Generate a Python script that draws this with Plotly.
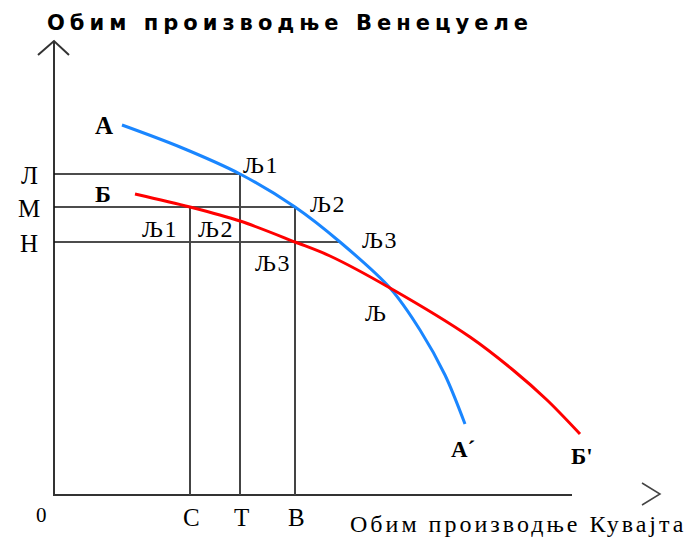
import plotly.graph_objects as go

# Production possibility curves (origin at the axes corner)
curve_a_x = [68, 126, 186, 241, 286, 336, 366, 391, 411]
curve_a_y = [370, 348, 321, 288, 253, 207, 165, 120, 71]
curve_b_x = [81, 136, 186, 241, 276, 336, 416, 459, 493, 526]
curve_b_y = [301, 288, 274, 253, 239, 207, 158, 125, 95, 61]

# Guide levels
y_levels = [321, 288, 253]          # Л, М, Н
y_level_labels = ["Л", "М", "Н"]
y_level_ends = [186, 241, 286]
x_levels = [136, 186, 241]          # С, Т, В
x_level_labels = ["С", "Т", "В"]
x_level_tops = [288, 321, 288]

point_labels = ["Љ1", "Љ2", "Љ3", "Љ1", "Љ2", "Љ3", "Љ"]
point_x = [207, 274, 326, 106, 162, 219, 322]
point_y = [330, 291, 255, 266, 266, 232, 182]

curve_labels = ["А", "Б", "А´", "Б'"]
curve_label_x = [50, 49, 409, 528]
curve_label_y = [370, 301, 46, 39]

x_title = "Обим производње Кувајта"
y_title = "Обим производње Венецуеле"

BLUE = "#1a86ff"
RED = "#ff0000"
SERIF = "Liberation Serif, Times New Roman, serif"

fig = go.Figure()

# axes
fig.add_trace(go.Scatter(x=[0, 0, 518], y=[454, 0, 0], mode="lines",
                         line=dict(color="#333333", width=2), hoverinfo="skip"))
fig.add_trace(go.Scatter(x=[-16, 0, 15], y=[440, 454, 440], mode="lines",
                         line=dict(color="#333333", width=2), hoverinfo="skip"))
fig.add_trace(go.Scatter(x=[588, 606, 588], y=[12, 1, -10], mode="lines",
                         line=dict(color="#444444", width=1.5), hoverinfo="skip"))

# horizontal guide lines
for yv, xe in zip(y_levels, y_level_ends):
    fig.add_trace(go.Scatter(x=[0, xe], y=[yv, yv], mode="lines",
                             line=dict(color="#111111", width=1.6), hoverinfo="skip"))
# vertical guide lines
for xv, yt in zip(x_levels, x_level_tops):
    fig.add_trace(go.Scatter(x=[xv, xv], y=[0, yt], mode="lines",
                             line=dict(color="#444444", width=2), hoverinfo="skip"))

# curves
fig.add_trace(go.Scatter(x=curve_a_x, y=curve_a_y, mode="lines",
                         line=dict(color=BLUE, width=3, shape="spline", smoothing=0.9),
                         hoverinfo="skip"))
fig.add_trace(go.Scatter(x=curve_b_x, y=curve_b_y, mode="lines",
                         line=dict(color=RED, width=3, shape="spline", smoothing=0.9),
                         hoverinfo="skip"))

ann = []
for t, x, y in zip(point_labels, point_x, point_y):
    ann.append(dict(x=x, y=y, text='<span style="letter-spacing:1.5px">' + t + "</span>",
                    showarrow=False, xanchor="center", yanchor="middle",
                    font=dict(family=SERIF, size=24, color="#000000")))
for t, x, y, s in zip(curve_labels, curve_label_x, curve_label_y, [25, 24, 23, 23]):
    ann.append(dict(x=x, y=y, text="<b>" + t + "</b>", showarrow=False,
                    xanchor="center", yanchor="middle",
                    font=dict(family=SERIF, size=s, color="#000000")))
for t, y in zip(y_level_labels, y_levels):
    ann.append(dict(x=-25, y=y - 1, text=t, showarrow=False, xanchor="center", yanchor="middle",
                    font=dict(family=SERIF, size=25, color="#000000")))
for t, x in zip(x_level_labels, x_levels):
    ann.append(dict(x=x + 1, y=-22, text=t, showarrow=False, xanchor="center", yanchor="middle",
                    font=dict(family=SERIF, size=25, color="#000000")))
ann.append(dict(x=-13, y=-20, text="0", showarrow=False, xanchor="center", yanchor="middle",
                font=dict(family=SERIF, size=21, color="#000000")))
ann.append(dict(x=464, y=-29,
                text='<span style="letter-spacing:3px">' + x_title + "</span>",
                showarrow=False, xanchor="center", yanchor="middle",
                font=dict(family=SERIF, size=24, color="#000000")))
ann.append(dict(x=236, y=472,
                text='<span style="letter-spacing:5px"><b>' + y_title + "</b></span>",
                showarrow=False, xanchor="center", yanchor="middle",
                font=dict(family="DejaVu Sans", size=21, color="#000000")))

fig.update_layout(
    width=693, height=541,
    margin=dict(l=0, r=0, t=0, b=0),
    paper_bgcolor="white", plot_bgcolor="white",
    showlegend=False,
    annotations=ann,
    xaxis=dict(range=[-54, 639], visible=False, fixedrange=True),
    yaxis=dict(range=[-46, 495], visible=False, fixedrange=True),
)

fig.write_html("out.html", config={"displayModeBar": False},
               post_script="document.body.style.margin='0';document.body.style.overflow='hidden';")
